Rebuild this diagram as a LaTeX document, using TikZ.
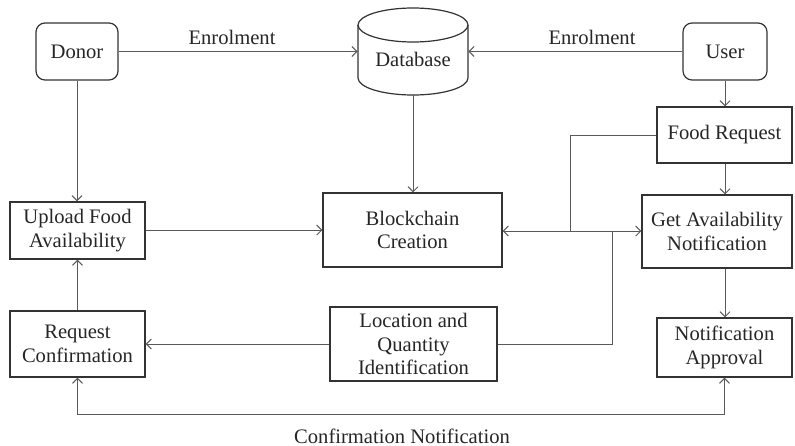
\documentclass[tikz,border=0pt]{standalone}
\usepackage{fontspec}
\setmainfont{Liberation Serif}
\usetikzlibrary{calc,arrows.meta}
\begin{document}
\begin{tikzpicture}[x=0.5pt,y=-0.5pt,
  every node/.style={font=\fontsize{10.3}{11.7}\selectfont, text=black!85, align=center, inner sep=0pt},
  box/.style={draw=black!80, line width=0.6pt},
  rbox/.style={box, rounded corners=4.5pt},
  conn/.style={draw=black!65, line width=0.5pt},
  arr/.style={conn, -{Straight Barb[length=2.5pt,width=5pt]}},
  barr/.style={conn, {Straight Barb[length=2.5pt,width=5pt]}-{Straight Barb[length=2.5pt,width=5pt]}}]
\useasboundingbox (0,0) rectangle (795,445);
% nodes
\node[rbox, minimum width=41pt, minimum height=28.5pt] (donor) at (77,51.5) {Donor};
\node[rbox, minimum width=42pt, minimum height=28.5pt] (user) at (725,51.5) {User};
\node[minimum width=55pt, minimum height=43.5pt] (db) at (413,51.5) {};
\node (dbtext) at (413,59) {Database};
\node[box, minimum width=67.5pt, minimum height=28pt] (foodreq) at (724.5,135) {Food Request};
\node[box, minimum width=75pt, minimum height=36.5pt] (getavail) at (717,231.5) {Get Availability\\Notification};
\node[box, minimum width=89.5pt, minimum height=37pt] (block) at (412.5,230) {Blockchain\\Creation};
\node[box, minimum width=67.5pt, minimum height=28.5pt] (upload) at (77.5,230.5) {Upload Food\\Availability};
\node[box, minimum width=67.5pt, minimum height=33pt] (reqconf) at (77.5,344) {Request\\Confirmation};
\node[box, minimum width=83.5pt, minimum height=37pt] (loc) at (413.5,344) {Location and\\Quantity\\Identification};
\node[box, minimum width=67.5pt, minimum height=29.5pt] (notifapp) at (724.5,347.5) {Notification\\Approval};
% cylinder
\draw[box] (413,25) ellipse [x radius=27.5pt, y radius=8.5pt];
\draw[box] (358,25) -- (358,78) arc[start angle=180, end angle=360, x radius=27.5pt, y radius=8.5pt] -- (468,25);
% labels
\node (enrl) at (232,37) {Enrolment};
\node (enrr) at (592,37) {Enrolment};
\node (confn) at (402,436) {Confirmation Notification};
% junction coordinates
\coordinate (j1) at (570,231);
\coordinate (j2) at (612,231);
% connectors
\draw[arr] (donor.east) -- (db.west);
\draw[arr] (user.west) -- (db.east);
\draw[arr] (donor.south) -- (upload.north -| donor.south);
\draw[arr] (db.south) -- (block.north -| db.south);
\draw[arr] (user.south) -- (foodreq.north -| user.south);
\draw[arr] (foodreq.south -| user.south) -- (getavail.north -| user.south);
\draw[arr] (getavail.south -| user.south) -- (notifapp.north -| user.south);
\draw[barr] (block.east |- j1) -- (getavail.west |- j1);
\draw[conn] (foodreq.west) -| (j1);
\draw[conn] (loc.east) -| (j2);
\draw[arr] (upload.east |- block.west) -- (block.west);
\draw[arr] (loc.west) -- (reqconf.east |- loc.west);
\draw[arr] (reqconf.north) -- (upload.south);
\draw[barr] (reqconf.south) -- ++(0,37) -| (notifapp.south);
\end{tikzpicture}
\end{document}
